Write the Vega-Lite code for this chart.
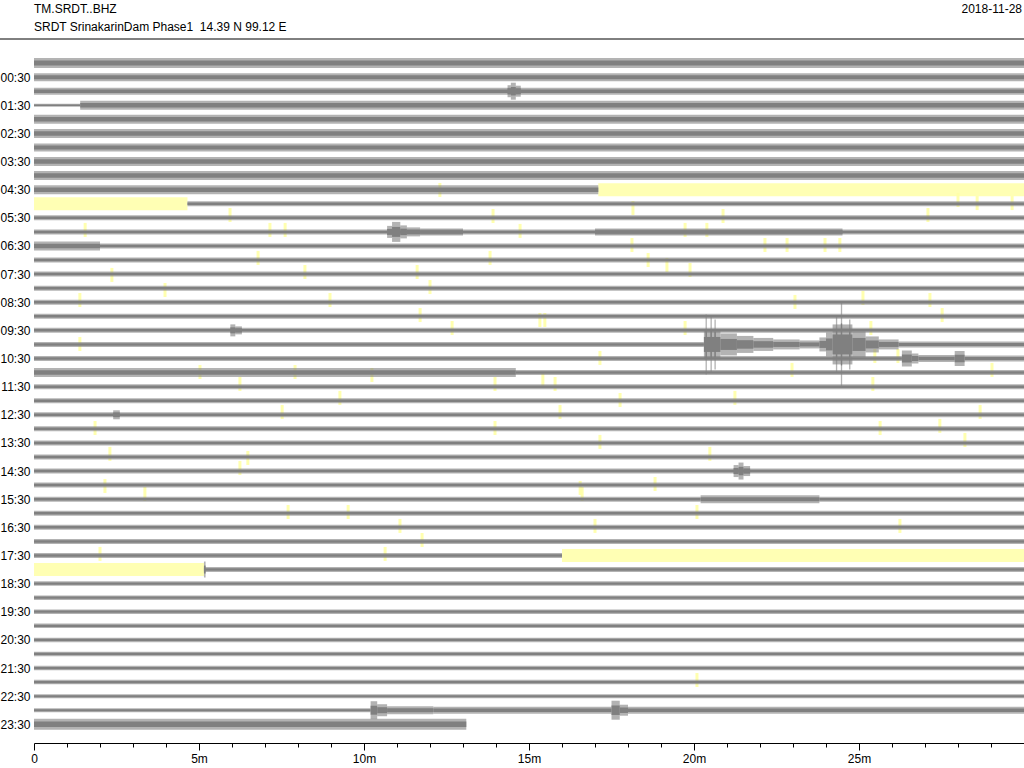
{
  "$schema": "https://vega.github.io/schema/vega-lite/v6.json",
  "width": 990,
  "height": 694,
  "autosize": "none",
  "padding": {"left": 34, "top": 49, "right": 0, "bottom": 25},
  "background": "white",
  "config": {"view": {"stroke": null}, "font": "Liberation Sans"},
  "datasets": {
    "gaps": [
      {"r": 9, "s": 17.1, "e": 30},
      {"r": 10, "s": 0, "e": 4.65},
      {"r": 35, "s": 16.0, "e": 30},
      {"r": 36, "s": 0, "e": 5.15}
    ],
    "picks": [
      {"s": 12.3, "r": 9.02}, {"s": 18.15, "r": 10.3}, {"s": 28.0, "r": 9.73}, {"s": 28.58, "r": 9.95}, {"s": 29.64, "r": 9.95},
      {"s": 5.94, "r": 10.8}, {"s": 13.91, "r": 10.87}, {"s": 20.88, "r": 10.87}, {"s": 27.09, "r": 10.8},
      {"s": 1.55, "r": 11.86}, {"s": 7.15, "r": 11.86}, {"s": 7.61, "r": 11.86}, {"s": 14.73, "r": 11.93}, {"s": 19.73, "r": 11.86}, {"s": 20.39, "r": 11.86},
      {"s": 18.12, "r": 12.93}, {"s": 22.15, "r": 12.93}, {"s": 22.82, "r": 12.93}, {"s": 23.97, "r": 12.93}, {"s": 24.42, "r": 12.93},
      {"s": 13.82, "r": 13.85}, {"s": 18.61, "r": 14.0}, {"s": 11.61, "r": 14.85}, {"s": 6.79, "r": 13.85}, {"s": 19.18, "r": 14.35}, {"s": 19.88, "r": 14.71},
      {"s": 2.36, "r": 15.06}, {"s": 8.21, "r": 14.85}, {"s": 1.39, "r": 16.84}, {"s": 3.97, "r": 16.13}, {"s": 8.97, "r": 16.84}, {"s": 12.0, "r": 15.92},
      {"s": 23.06, "r": 16.98}, {"s": 25.12, "r": 16.7}, {"s": 27.15, "r": 16.84}, {"s": 11.7, "r": 17.91}, {"s": 27.52, "r": 17.91},
      {"s": 12.67, "r": 18.83}, {"s": 15.33, "r": 18.26}, {"s": 15.48, "r": 18.26}, {"s": 19.73, "r": 18.83}, {"s": 25.36, "r": 18.83},
      {"s": 1.39, "r": 19.97}, {"s": 25.48, "r": 20.82}, {"s": 26.18, "r": 20.82}, {"s": 17.15, "r": 20.96}, {"s": 22.97, "r": 21.81}, {"s": 29.03, "r": 21.81},
      {"s": 5.03, "r": 21.96}, {"s": 7.91, "r": 21.96}, {"s": 10.24, "r": 22.17}, {"s": 15.42, "r": 22.53}, {"s": 25.42, "r": 22.81},
      {"s": 6.24, "r": 22.81}, {"s": 13.97, "r": 22.81}, {"s": 15.79, "r": 22.81}, {"s": 9.27, "r": 23.8}, {"s": 17.76, "r": 23.95}, {"s": 21.24, "r": 23.8},
      {"s": 7.52, "r": 24.8}, {"s": 15.94, "r": 24.8}, {"s": 28.67, "r": 24.8}, {"s": 1.85, "r": 25.94}, {"s": 13.97, "r": 25.94}, {"s": 25.64, "r": 25.94},
      {"s": 27.45, "r": 25.79}, {"s": 17.15, "r": 26.93}, {"s": 28.21, "r": 26.79}, {"s": 2.3, "r": 27.78}, {"s": 6.48, "r": 28.07}, {"s": 20.48, "r": 27.78},
      {"s": 6.24, "r": 28.78}, {"s": 2.15, "r": 30.06}, {"s": 16.55, "r": 30.2}, {"s": 18.82, "r": 29.92}, {"s": 3.36, "r": 30.63}, {"s": 16.61, "r": 30.63},
      {"s": 7.7, "r": 31.91}, {"s": 9.52, "r": 31.91}, {"s": 20.09, "r": 31.91}, {"s": 11.09, "r": 32.9}, {"s": 17.0, "r": 32.9}, {"s": 26.24, "r": 32.9},
      {"s": 11.76, "r": 33.9}, {"s": 2.0, "r": 34.89}, {"s": 10.64, "r": 34.89}, {"s": 20.09, "r": 43.85}
    ],
    "tr": [
      {"r": 0, "s": 0, "e": 30, "a": 10},
      {"r": 1, "s": 0, "e": 30, "a": 8},
      {"r": 2, "s": 0, "e": 30, "a": 7}, {"r": 2, "s": 14.35, "e": 14.45, "a": 12}, {"r": 2, "s": 14.45, "e": 14.6, "a": 17}, {"r": 2, "s": 14.6, "e": 14.75, "a": 11},
      {"r": 3, "s": 0, "e": 1.4, "a": 3}, {"r": 3, "s": 1.4, "e": 30, "a": 9},
      {"r": 4, "s": 0, "e": 30, "a": 9},
      {"r": 5, "s": 0, "e": 30, "a": 9},
      {"r": 6, "s": 0, "e": 30, "a": 8},
      {"r": 7, "s": 0, "e": 30, "a": 9},
      {"r": 8, "s": 0, "e": 30, "a": 9},
      {"r": 9, "s": 0, "e": 17.1, "a": 9},
      {"r": 10, "s": 4.65, "e": 30, "a": 5},
      {"r": 11, "s": 0, "e": 30, "a": 5},
      {"r": 12, "s": 0, "e": 30, "a": 5}, {"r": 12, "s": 10.7, "e": 10.85, "a": 12}, {"r": 12, "s": 10.85, "e": 11.1, "a": 20},
      {"r": 12, "s": 11.1, "e": 11.3, "a": 13}, {"r": 12, "s": 11.3, "e": 11.7, "a": 9}, {"r": 12, "s": 11.7, "e": 13, "a": 7}, {"r": 12, "s": 17, "e": 24.5, "a": 7},
      {"r": 13, "s": 0, "e": 2, "a": 9}, {"r": 13, "s": 2, "e": 30, "a": 5},
      {"r": 14, "s": 0, "e": 30, "a": 5},
      {"r": 15, "s": 0, "e": 30, "a": 5},
      {"r": 16, "s": 0, "e": 30, "a": 5},
      {"r": 17, "s": 0, "e": 30, "a": 5},
      {"r": 18, "s": 0, "e": 30, "a": 5},
      {"r": 19, "s": 0, "e": 30, "a": 5}, {"r": 19, "s": 5.95, "e": 6.1, "a": 12}, {"r": 19, "s": 6.1, "e": 6.3, "a": 8},
      {"r": 20, "s": 0, "e": 20.3, "a": 5}, {"r": 20, "s": 20.3, "e": 20.8, "a": 30},
      {"r": 20, "s": 20.35, "e": 20.39, "a": 60}, {"r": 20, "s": 20.5, "e": 20.54, "a": 56}, {"r": 20, "s": 20.62, "e": 20.66, "a": 50},
      {"r": 20, "s": 20.8, "e": 21.3, "a": 22}, {"r": 20, "s": 21.3, "e": 21.8, "a": 17}, {"r": 20, "s": 21.8, "e": 22.4, "a": 13}, {"r": 20, "s": 22.4, "e": 23.2, "a": 10},
      {"r": 20, "s": 23.2, "e": 23.8, "a": 8}, {"r": 20, "s": 23.8, "e": 24.0, "a": 14}, {"r": 20, "s": 24.0, "e": 24.2, "a": 24}, {"r": 20, "s": 24.2, "e": 24.8, "a": 40},
      {"r": 20, "s": 24.3, "e": 24.34, "a": 56}, {"r": 20, "s": 24.45, "e": 24.49, "a": 84}, {"r": 20, "s": 24.7, "e": 24.74, "a": 50},
      {"r": 20, "s": 24.8, "e": 25.2, "a": 26}, {"r": 20, "s": 25.2, "e": 25.6, "a": 16}, {"r": 20, "s": 25.6, "e": 26.2, "a": 10}, {"r": 20, "s": 26.2, "e": 30, "a": 6},
      {"r": 21, "s": 0, "e": 26.3, "a": 5}, {"r": 21, "s": 26.3, "e": 26.6, "a": 16}, {"r": 21, "s": 26.6, "e": 26.8, "a": 10}, {"r": 21, "s": 26.8, "e": 27.9, "a": 7},
      {"r": 21, "s": 27.9, "e": 28.2, "a": 15}, {"r": 21, "s": 28.2, "e": 30, "a": 6},
      {"r": 22, "s": 0, "e": 14.6, "a": 9}, {"r": 22, "s": 14.6, "e": 30, "a": 5},
      {"r": 23, "s": 0, "e": 30, "a": 5},
      {"r": 24, "s": 0, "e": 30, "a": 5},
      {"r": 25, "s": 0, "e": 30, "a": 5}, {"r": 25, "s": 2.4, "e": 2.6, "a": 9},
      {"r": 26, "s": 0, "e": 30, "a": 5},
      {"r": 27, "s": 0, "e": 30, "a": 5},
      {"r": 28, "s": 0, "e": 30, "a": 5},
      {"r": 29, "s": 0, "e": 30, "a": 5}, {"r": 29, "s": 21.2, "e": 21.35, "a": 12}, {"r": 29, "s": 21.35, "e": 21.5, "a": 17}, {"r": 29, "s": 21.5, "e": 21.7, "a": 10},
      {"r": 30, "s": 0, "e": 30, "a": 5},
      {"r": 31, "s": 0, "e": 20.2, "a": 5}, {"r": 31, "s": 20.2, "e": 23.8, "a": 8}, {"r": 31, "s": 23.8, "e": 30, "a": 5},
      {"r": 32, "s": 0, "e": 30, "a": 5},
      {"r": 33, "s": 0, "e": 30, "a": 5},
      {"r": 34, "s": 0, "e": 30, "a": 5},
      {"r": 35, "s": 0, "e": 16.0, "a": 5},
      {"r": 36, "s": 5.15, "e": 30, "a": 5}, {"r": 36, "s": 5.15, "e": 5.2, "a": 16},
      {"r": 37, "s": 0, "e": 30, "a": 4.5},
      {"r": 38, "s": 0, "e": 30, "a": 4.5},
      {"r": 39, "s": 0, "e": 30, "a": 4.5},
      {"r": 40, "s": 0, "e": 30, "a": 4.5},
      {"r": 41, "s": 0, "e": 30, "a": 4.5},
      {"r": 42, "s": 0, "e": 30, "a": 4.5},
      {"r": 43, "s": 0, "e": 30, "a": 4.5},
      {"r": 44, "s": 0, "e": 30, "a": 4.5},
      {"r": 45, "s": 0, "e": 30, "a": 4},
      {"r": 46, "s": 0, "e": 10.2, "a": 4}, {"r": 46, "s": 10.2, "e": 10.4, "a": 18}, {"r": 46, "s": 10.4, "e": 10.7, "a": 12}, {"r": 46, "s": 10.7, "e": 12.1, "a": 8},
      {"r": 46, "s": 12.1, "e": 17.5, "a": 7}, {"r": 46, "s": 17.5, "e": 17.75, "a": 19}, {"r": 46, "s": 17.75, "e": 18.0, "a": 11}, {"r": 46, "s": 18.0, "e": 30, "a": 7},
      {"r": 47, "s": 0, "e": 13.1, "a": 11}
    ],
    "hdrL": [
      {"s": 0, "r": -3.84, "txt": "TM.SRDT..BHZ"},
      {"s": 0, "r": -2.56, "txt": "SRDT SrinakarinDam Phase1 \u00a014.39 N 99.12 E"}
    ],
    "hdrR": [
      {"s": 29.94, "r": -3.84, "txt": "2018-11-28"}
    ],
    "hline": [
      {"s": -1.04, "e": 30, "r": -1.71}
    ]
  },
  "encoding": {
    "x": {"field": "s", "type": "quantitative", "scale": {"domain": [0, 30], "nice": false, "zero": false},
      "axis": {"values": [0,1,2,3,4,5,6,7,8,9,10,11,12,13,14,15,16,17,18,19,20,21,22,23,24,25,26,27,28,29],
        "labelExpr": "datum.value % 5 === 0 ? (datum.value === 0 ? '0' : datum.value + 'm') : ''",
        "tickSize": {"condition": {"test": "datum.value % 5 === 0", "value": 7}, "value": 4},
        "tickColor": "black", "domainColor": "black", "labelColor": "black", "labelFontSize": 12, "labelFont": "Liberation Sans",
        "labelPadding": 3, "labelOverlap": false, "labelFlush": false, "grid": false, "title": null}},
    "y": {"field": "r", "type": "quantitative", "scale": {"domain": [-1, 48.33], "reverse": true, "nice": false, "zero": false},
      "axis": {"values": [1,3,5,7,9,11,13,15,17,19,21,23,25,27,29,31,33,35,37,39,41,43,45,47],
        "labelExpr": "(datum.value < 20 ? '0' : '') + floor(datum.value / 2) + ':30'",
        "domain": false, "ticks": false, "grid": false, "title": null, "labelPadding": 4, "labelFontSize": 12, "labelColor": "black", "labelFont": "Liberation Sans"}}
  },
  "layer": [
    {
      "data": {"name": "gaps"},
      "mark": {"type": "rule", "strokeWidth": 13, "color": "#ffffb4"},
      "encoding": {"x2": {"field": "e"}}
    },
    {
      "data": {"name": "picks"},
      "mark": {"type": "tick", "orient": "vertical", "size": 14, "thickness": 3, "color": "#ffffa6", "opacity": 0.9}
    },
    {
      "data": {"name": "tr"},
      "mark": {"type": "rule", "color": "#808080", "opacity": 0.6},
      "encoding": {
        "x2": {"field": "e"},
        "strokeWidth": {"field": "a", "type": "quantitative", "scale": {"domain": [0, 100], "range": [0, 100]}, "legend": null}
      }
    },
    {
      "data": {"name": "tr"},
      "mark": {"type": "rule", "color": "#808080"},
      "encoding": {
        "x2": {"field": "e"},
        "size": {"field": "a", "type": "quantitative", "scale": {"domain": [0, 100], "range": [0, 50]}, "legend": null}
      }
    },
    {
      "data": {"name": "hdrL"},
      "mark": {"type": "text", "align": "left", "baseline": "middle", "fontSize": 12, "font": "Liberation Sans", "color": "black"},
      "encoding": {"text": {"field": "txt"}}
    },
    {
      "data": {"name": "hdrR"},
      "mark": {"type": "text", "align": "right", "baseline": "middle", "fontSize": 12, "font": "Liberation Sans", "color": "black"},
      "encoding": {"text": {"field": "txt"}}
    },
    {
      "data": {"name": "hline"},
      "mark": {"type": "rule", "color": "black", "strokeWidth": 1},
      "encoding": {"x2": {"field": "e"}}
    }
  ]
}
